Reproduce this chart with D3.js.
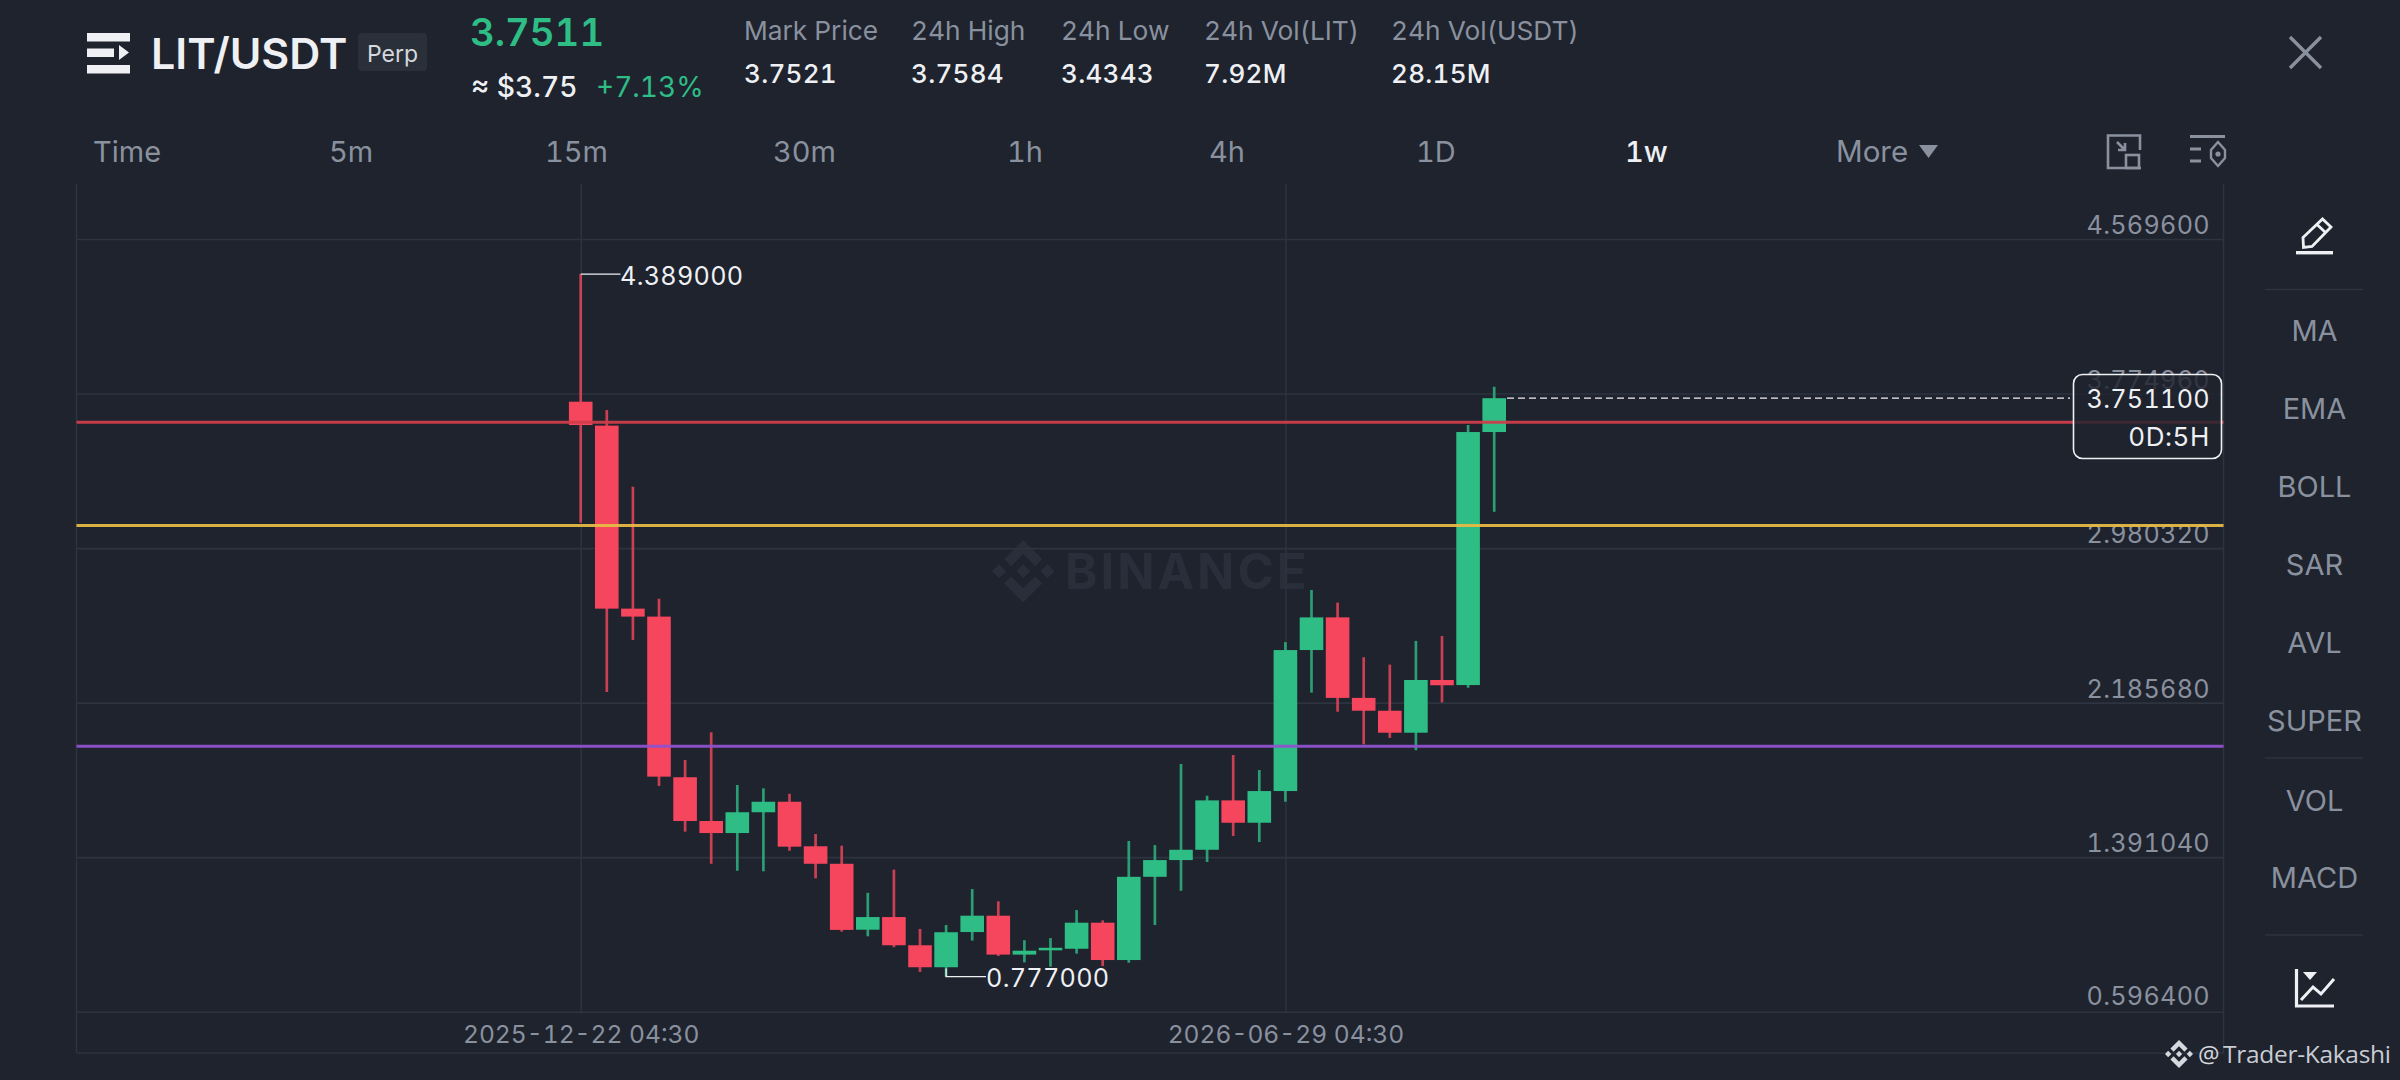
<!DOCTYPE html>
<html>
<head>
<meta charset="utf-8">
<script src="https://cdn.jsdelivr.net/npm/d3@7"></script>
<style>
html,body{margin:0;padding:0;background:#1e232e;}
svg{display:block;font-family:Inter,Lato,sans-serif;font-variant-numeric:tabular-nums;}
text{white-space:pre;}
</style>
</head>
<body>
<svg id="chart" width="2400" height="1080"></svg>
<script>
// ---- data ----
const dates = ["2025-12-22","2025-12-29","2026-01-05","2026-01-12","2026-01-19","2026-01-26","2026-02-02","2026-02-09","2026-02-16","2026-02-23","2026-03-02","2026-03-09","2026-03-16","2026-03-23","2026-03-30","2026-04-06","2026-04-13","2026-04-20","2026-04-27","2026-05-04","2026-05-11","2026-05-18","2026-05-25","2026-06-01","2026-06-08","2026-06-15","2026-06-22","2026-06-29","2026-07-06","2026-07-13","2026-07-20","2026-07-27","2026-08-03","2026-08-10","2026-08-17","2026-08-24"];
const opens  = [3.733,3.610,2.669,2.628,1.802,1.577,1.515,1.622,1.676,1.447,1.357,1.018,1.083,0.938,0.825,1.006,1.090,0.890,0.912,0.920,1.054,0.862,1.290,1.376,1.429,1.683,1.568,1.731,2.456,2.624,2.210,2.144,2.031,2.302,2.276,3.577];
const highs  = [4.389,3.690,3.296,2.720,1.891,2.033,1.762,1.745,1.717,1.510,1.450,1.208,1.327,1.022,1.042,1.227,1.164,0.964,0.975,1.119,1.066,1.474,1.453,1.870,1.707,1.916,1.839,2.497,2.765,2.700,2.419,2.381,2.503,2.528,3.613,3.810];
const lows   = [3.111,2.240,2.508,1.757,1.522,1.357,1.321,1.318,1.424,1.282,1.008,0.984,0.928,0.801,0.777,0.962,0.883,0.850,0.828,0.895,0.831,0.848,1.042,1.218,1.366,1.500,1.469,1.676,2.237,2.139,1.971,2.004,1.941,2.187,2.262,3.167];
const closes = [3.613,2.669,2.628,1.805,1.577,1.515,1.622,1.676,1.445,1.357,1.017,1.083,0.938,0.825,1.005,1.090,0.890,0.910,0.925,1.054,0.862,1.290,1.376,1.429,1.683,1.568,1.731,2.456,2.624,2.210,2.144,2.031,2.302,2.275,3.577,3.7511];
const priceTicks = [4.5696,3.77496,2.98032,2.18568,1.39104,0.5964];
const timeTicks = ["2025-12-22","2026-06-29"];
const levelValues = [3.627,3.097,1.961];
const levelColors = ["#cf3d4a","#e6b845","#8f52cc"];
const peak = 4.389, trough = 0.777, lastPrice = 3.7511;
const intervals = ["Time","5m","15m","30m","1h","4h","1D","1w"];
const intervalX = [93,329,545,773,1007,1209,1416,1625];
const statNames = ["Mark Price","24h High","24h Low","24h Vol(LIT)","24h Vol(USDT)"];
const statValues = ["3.7521","3.7584","3.4343","7.92M","28.15M"];
const statX = [744,911,1061,1204,1391];
const indicators = ["MA","EMA","BOLL","SAR","AVL","SUPER","VOL","MACD"];
const indicatorY = [330,408,486.5,564.5,642,720.5,800,877];

// ---- colours ----
const UP="#2ebd85", DOWN="#f6465d", GREY="#8a919e", WHITE="#eef0f3", GRID="#2e343f", MARK="#292f3a";

const svg=d3.select("#chart");
const plotLeft=76.5,plotRight=2223.5,plotTop=184,xAxisY=1012,bottomY=1053;
const x=d3.scalePoint().domain(dates).range([580.7,580.7+35*26.1]);
const y=d3.scaleLinear().domain([0.5964,4.5696]).range([1011.7,239]);
const bodyW=23.6;
const candles=dates.map((d,i)=>({d,o:opens[i],h:highs[i],l:lows[i],c:closes[i]}));
const col=c=>c.c>=c.o?UP:DOWN;

function txt(p,s,xx,yy,size,fill,opt={}){
  return p.append("text").attr("x",xx).attr("y",yy).attr("font-size",size).attr("fill",fill)
    .attr("font-weight",opt.w||400).attr("text-anchor",opt.a||"start")
    .attr("letter-spacing",opt.ls||0).attr("font-family",opt.f||null).text(s);
}

// ---- watermark ----
const LOGO="M9.8 13.4 16 7.2l6.2 6.2 3.6-3.6L16 0 6.2 9.8l3.6 3.6zM0 16l3.6-3.6L7.2 16l-3.6 3.6L0 16zm9.8 2.6L16 24.8l6.2-6.2 3.6 3.6L16 32l-9.8-9.8zm15-2.6 3.6-3.6L32 16l-3.6 3.6-3.6-3.6zM19.6 16 16 12.4 13.4 15l-.3.3-.6.6L16 19.6l3.6-3.6z";
svg.append("path").attr("d",LOGO).attr("transform","translate(992,540) scale(1.95)").attr("fill",MARK);
txt(svg,"BINANCE",1065,588.5,49,MARK,{w:700,ls:3});

// ---- grid via axes ----
const gridY=d3.axisLeft(y).tickValues(priceTicks).tickSize(-(plotRight-plotLeft)).tickFormat("");
svg.append("g").attr("transform",`translate(${plotLeft},0)`).call(gridY)
  .call(g=>g.select(".domain").remove()).selectAll("line").attr("stroke",GRID).attr("stroke-width",1.6);
const gridX=d3.axisBottom(x).tickValues(timeTicks).tickSize(-(xAxisY-plotTop)).tickFormat("");
svg.append("g").attr("transform",`translate(0,${xAxisY})`).call(gridX)
  .call(g=>g.select(".domain").remove()).selectAll("line").attr("stroke",GRID).attr("stroke-width",1.4);
// frame
[[plotLeft,plotTop,plotLeft,bottomY],[plotRight,plotTop,plotRight,bottomY],[plotLeft,bottomY,plotRight,bottomY]].forEach(a=>{
  svg.append("line").attr("x1",a[0]).attr("y1",a[1]).attr("x2",a[2]).attr("y2",a[3]).attr("stroke",GRID).attr("stroke-width",1.5);
});

// ---- candles ----
const gc=svg.append("g");
gc.selectAll("line.wick").data(candles).join("line").attr("class","wick")
  .attr("x1",d=>x(d.d)).attr("x2",d=>x(d.d)).attr("y1",d=>y(d.h)).attr("y2",d=>y(d.l))
  .attr("stroke",col).attr("stroke-width",2.7).attr("stroke-opacity",.8);
gc.selectAll("rect.body").data(candles).join("rect").attr("class","body")
  .attr("x",d=>x(d.d)-bodyW/2).attr("width",bodyW)
  .attr("y",d=>y(Math.max(d.o,d.c))).attr("height",d=>Math.max(1,Math.abs(y(d.o)-y(d.c))))
  .attr("fill",col);

// ---- price labels ----
const labelAxis=d3.axisLeft(y).tickValues(priceTicks).tickSize(0).tickPadding(0).tickFormat(d3.format(".6f"));
svg.append("g").attr("transform","translate(2210,0)").call(labelAxis)
  .call(g=>g.select(".domain").remove())
  .call(g=>g.selectAll("line").remove())
  .selectAll("text").attr("fill",GREY).attr("font-size",25.2).attr("font-family","Inter,Lato,sans-serif")
  .attr("dy",(d,i)=>i===priceTicks.length-1?-7.5:-5.5).attr("text-anchor","end").style("dominant-baseline","auto").attr("letter-spacing",.3);

// ---- level lines ----
levelValues.forEach((v,i)=>{
  svg.append("line").attr("x1",plotLeft).attr("x2",plotRight).attr("y1",y(v)).attr("y2",y(v))
    .attr("stroke",levelColors[i]).attr("stroke-width",3).attr("stroke-opacity",.95);
});

// ---- last price line and box ----
const lastX=x(dates[dates.length-1]);
svg.append("line").attr("x1",lastX+bodyW/2+1).attr("x2",2070).attr("y1",y(lastPrice)).attr("y2",y(lastPrice))
  .attr("stroke",WHITE).attr("stroke-width",1.3).attr("stroke-dasharray","7 4");
svg.append("rect").attr("x",2073.5).attr("y",374.5).attr("width",148).attr("height",84).attr("rx",9)
  .attr("fill","#1e232e").attr("fill-opacity",.82).attr("stroke",WHITE).attr("stroke-width",1.6);
txt(svg,d3.format(".6f")(lastPrice),2210,408,25.2,WHITE,{a:"end",ls:.3});
txt(svg,"0D:5H",2210,445.5,26,WHITE,{a:"end",ls:.6});

// ---- high / low notes ----
const peakD=dates[highs.indexOf(peak)], troughD=dates[lows.indexOf(trough)];
svg.append("path").attr("d",`M${x(peakD)} ${y(peak)}H620.5`).attr("fill","none").attr("stroke",WHITE).attr("stroke-width",1.4);
txt(svg,d3.format(".6f")(peak),620,284.5,25.2,WHITE,{ls:.3});
svg.append("path").attr("d",`M${x(troughD)} ${y(trough)-8}V${y(trough)}H986`).attr("fill","none").attr("stroke",WHITE).attr("stroke-width",1.4);
txt(svg,d3.format(".6f")(trough),986,986.5,25.2,WHITE,{ls:.3});

// ---- time labels ----
const fmtDate=d=>d+" 04:30";
const timeAxis=d3.axisBottom(x).tickValues(timeTicks).tickSize(0).tickPadding(0).tickFormat(fmtDate);
svg.append("g").attr("transform","translate(0,1043)").call(timeAxis)
  .call(g=>g.select(".domain").remove())
  .call(g=>g.selectAll("line").remove())
  .selectAll("text").attr("fill",GREY).attr("font-size",24.6).attr("font-family","Inter,Lato,sans-serif")
  .attr("y",0).attr("dy",0).attr("letter-spacing",0);

// ---- header ----
[[87,33,43,8.5],[87,65,43,8.5],[87,48.5,27,8.5]].forEach(r=>{
  svg.append("rect").attr("x",r[0]).attr("y",r[1]).attr("width",r[2]).attr("height",r[3]).attr("fill",WHITE);
});
svg.append("path").attr("d","M119 45l10 7.5-10 7.5z").attr("fill",WHITE);
txt(svg,"LIT/USDT",151,68.5,43,WHITE,{w:600});
svg.append("rect").attr("x",358).attr("y",33).attr("width",69).attr("height",38).attr("rx",4).attr("fill","#2a303a");
txt(svg,"Perp",392.5,62,23,"#d5d8dc",{a:"middle"});
txt(svg,"3.7511",470,46,38.3,UP,{w:600});
txt(svg,"≈ $3.75",471,97,28.2,WHITE,{w:500});
txt(svg,"+7.13%",596,97,28,UP);
statNames.forEach((s,i)=>{
  txt(svg,s,statX[i],40,26.3,GREY);
  txt(svg,statValues[i],statX[i],83,26,WHITE,{w:500,ls:.3});
});
intervals.forEach((s,i)=>{
  txt(svg,s,intervalX[i],162,29,s==="1w"?WHITE:GREY,{w:s==="1w"?500:400});
});
txt(svg,"More",1836,162,29.5,GREY);
svg.append("path").attr("d","M1919 145h19l-9.5 13z").attr("fill",GREY);
// toolbar icons
svg.append("path").attr("d","M2141 168H2108V135.5H2140V150M2117 142l8 8M2125 143v7h-7").attr("fill","none").attr("stroke",GREY).attr("stroke-width",2.6);
svg.append("rect").attr("x",2126).attr("y",155).attr("width",13).attr("height",13).attr("fill","none").attr("stroke",GREY).attr("stroke-width",2.6);
svg.append("path").attr("d","M2190 136.5h35M2190 149h11M2190 161h11").attr("fill","none").attr("stroke",GREY).attr("stroke-width",2.8);
svg.append("path").attr("d","M2218 142l7 8v8l-7 8-7-8v-8z").attr("fill","none").attr("stroke",GREY).attr("stroke-width",2.4);
svg.append("circle").attr("cx",2218).attr("cy",154).attr("r",2.6).attr("fill",GREY);
// close
svg.append("path").attr("d","M2290 37L2321 68M2321 37L2290 68").attr("fill","none").attr("stroke",GREY).attr("stroke-width",3.4);

// ---- side menu ----
svg.append("path").attr("d","M2303.5 247.5l-.5-10 19.5-18.5 8.5 8-19 19.5zM2317 224.5l8.5 8").attr("fill","none").attr("stroke",WHITE).attr("stroke-width",2.8);
svg.append("rect").attr("x",2296).attr("y",251).attr("width",37).attr("height",3.4).attr("fill",WHITE);
[289.5,758,935].forEach(v=>svg.append("line").attr("x1",2265).attr("x2",2363).attr("y1",v).attr("y2",v).attr("stroke",GRID).attr("stroke-width",1.4));
indicators.forEach((s,i)=>{
  txt(svg,s,2314.5,indicatorY[i]+10.5,29,GREY,{a:"middle"});
});
svg.append("path").attr("d","M2296.5 969V1006H2334").attr("fill","none").attr("stroke",WHITE).attr("stroke-width",3.2);
svg.append("path").attr("d","M2301 1000l12-13 8 7 13-15").attr("fill","none").attr("stroke",WHITE).attr("stroke-width",3);
svg.append("path").attr("d","M2303 972h14l-7 8z").attr("fill",WHITE);

// ---- credit ----
svg.append("path").attr("d",LOGO).attr("transform","translate(2165,1040) scale(.875)").attr("fill","#d5d8dc");
txt(svg,"@",2198,1063,24,"#d5d8dc",{f:"Open Sans"});
txt(svg,"Trader-Kakashi",2223,1063,24.5,"#c8ccd2",{f:"Open Sans"}).attr("textLength",168).attr("lengthAdjust","spacing");
</script>
</body>
</html>
